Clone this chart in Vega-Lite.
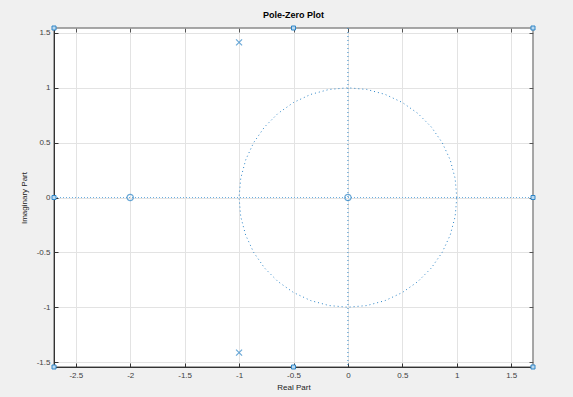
{
  "$schema": "https://vega.github.io/schema/vega-lite/v6.json",
  "width": 479,
  "height": 339,
  "autosize": {"type": "none"},
  "padding": {"left": 54, "top": 28, "right": 40, "bottom": 30},
  "background": "#f0f0f0",
  "title": {"text": "Pole-Zero Plot", "fontSize": 9, "fontWeight": "bold", "font": "Liberation Sans", "color": "#000000", "offset": 4, "frame": "group"},
  "config": {
    "view": {"fill": "white", "stroke": "#8a8a8a", "strokeWidth": 1.5},
    "axis": {"labelFont": "Liberation Sans", "titleFont": "Liberation Sans", "labelFontSize": 8, "titleFontSize": 8, "titleFontWeight": "normal", "labelColor": "#404040", "titleColor": "#222222", "gridColor": "#e3e3e3", "gridWidth": 1, "domainColor": "#333333", "tickColor": "#333333", "tickSize": -4, "labelPadding": 8}
  },
  "datasets": {
    "circle": [
      {"i": 0, "re": 1, "im": 0}, {"i": 1, "re": 0.9848, "im": 0.1736}, {"i": 2, "re": 0.9397, "im": 0.342}, {"i": 3, "re": 0.866, "im": 0.5}, {"i": 4, "re": 0.766, "im": 0.6428}, {"i": 5, "re": 0.6428, "im": 0.766}, {"i": 6, "re": 0.5, "im": 0.866}, {"i": 7, "re": 0.342, "im": 0.9397}, {"i": 8, "re": 0.1736, "im": 0.9848}, {"i": 9, "re": 0, "im": 1},
      {"i": 10, "re": -0.1736, "im": 0.9848}, {"i": 11, "re": -0.342, "im": 0.9397}, {"i": 12, "re": -0.5, "im": 0.866}, {"i": 13, "re": -0.6428, "im": 0.766}, {"i": 14, "re": -0.766, "im": 0.6428}, {"i": 15, "re": -0.866, "im": 0.5}, {"i": 16, "re": -0.9397, "im": 0.342}, {"i": 17, "re": -0.9848, "im": 0.1736}, {"i": 18, "re": -1, "im": 0},
      {"i": 19, "re": -0.9848, "im": -0.1736}, {"i": 20, "re": -0.9397, "im": -0.342}, {"i": 21, "re": -0.866, "im": -0.5}, {"i": 22, "re": -0.766, "im": -0.6428}, {"i": 23, "re": -0.6428, "im": -0.766}, {"i": 24, "re": -0.5, "im": -0.866}, {"i": 25, "re": -0.342, "im": -0.9397}, {"i": 26, "re": -0.1736, "im": -0.9848}, {"i": 27, "re": 0, "im": -1},
      {"i": 28, "re": 0.1736, "im": -0.9848}, {"i": 29, "re": 0.342, "im": -0.9397}, {"i": 30, "re": 0.5, "im": -0.866}, {"i": 31, "re": 0.6428, "im": -0.766}, {"i": 32, "re": 0.766, "im": -0.6428}, {"i": 33, "re": 0.866, "im": -0.5}, {"i": 34, "re": 0.9397, "im": -0.342}, {"i": 35, "re": 0.9848, "im": -0.1736}, {"i": 36, "re": 1, "im": 0}
    ],
    "zeros": [{"re": -2, "im": 0}, {"re": 0, "im": 0}],
    "poles": [{"re": -1, "im": 1.4142}, {"re": -1, "im": -1.4142}],
    "bounds": [
      {"re": -2.7, "im": 1.545}, {"re": -0.5, "im": 1.545}, {"re": 1.7, "im": 1.545},
      {"re": -2.7, "im": 0}, {"re": 1.7, "im": 0},
      {"re": -2.7, "im": -1.545}, {"re": -0.5, "im": -1.545}, {"re": 1.7, "im": -1.545}
    ],
    "origin": [{"v": 0}],
    "haxis": [{"re": -2.7, "im": 0}, {"re": 1.7, "im": 0}]
  },
  "layer": [
    {
      "data": {"name": "origin"},
      "mark": {"type": "rule", "color": "#2e86c8", "strokeDash": [1, 3], "strokeWidth": 1},
      "encoding": {
        "x": {"field": "v", "type": "quantitative", "scale": {"domain": [-2.7, 1.7], "nice": false, "zero": false},
          "axis": {"orient": "bottom", "title": "Real Part", "values": [-2.5, -2, -1.5, -1, -0.5, 0, 0.5, 1, 1.5], "labelExpr": "toString(datum.value)", "titlePadding": 4}}
      }
    },
    {
      "data": {"name": "origin"},
      "mark": {"type": "point", "opacity": 0},
      "encoding": {
        "y": {"field": "v", "type": "quantitative", "scale": {"domain": [-1.545, 1.545], "nice": false, "zero": false},
          "axis": {"orient": "left", "title": "Imaginary Part", "values": [-1.5, -1, -0.5, 0, 0.5, 1, 1.5], "labelExpr": "toString(datum.value)", "titlePadding": 8}}
      }
    },
    {
      "data": {"name": "haxis"},
      "mark": {"type": "line", "color": "#6aaee0", "strokeDash": [1, 2], "strokeWidth": 1},
      "encoding": {
        "x": {"field": "re", "type": "quantitative", "axis": null},
        "y": {"field": "im", "type": "quantitative", "axis": null}
      }
    },
    {
      "data": {"name": "circle"},
      "mark": {"type": "line", "color": "#2e86c8", "strokeDash": [1, 3], "strokeWidth": 1},
      "encoding": {
        "x": {"field": "re", "type": "quantitative", "axis": {"orient": "top", "title": null, "labels": false, "grid": false, "domain": false, "tickColor": "#555555", "values": [-2.5, -2, -1.5, -1, -0.5, 0, 0.5, 1, 1.5]}},
        "y": {"field": "im", "type": "quantitative", "axis": {"orient": "right", "title": null, "labels": false, "grid": false, "domain": false, "tickColor": "#555555", "values": [-1.5, -1, -0.5, 0, 0.5, 1, 1.5]}},
        "order": {"field": "i", "type": "quantitative"}
      }
    },
    {
      "data": {"name": "zeros"},
      "mark": {"type": "point", "shape": "circle", "size": 40, "color": "#2e86c8", "strokeWidth": 1.2, "filled": false},
      "encoding": {
        "x": {"field": "re", "type": "quantitative", "axis": null},
        "y": {"field": "im", "type": "quantitative", "axis": null}
      }
    },
    {
      "data": {"name": "poles"},
      "mark": {"type": "point", "shape": "M-1,-1L1,1M1,-1L-1,1", "size": 36, "color": "#2e86c8", "strokeWidth": 1.2, "filled": false},
      "encoding": {
        "x": {"field": "re", "type": "quantitative", "axis": null},
        "y": {"field": "im", "type": "quantitative", "axis": null}
      }
    },
    {
      "data": {"name": "bounds"},
      "mark": {"type": "point", "shape": "square", "size": 16, "color": "#2e86c8", "fill": "#bcd9ef", "strokeWidth": 1, "filled": false, "fillOpacity": 1},
      "encoding": {
        "x": {"field": "re", "type": "quantitative", "axis": null},
        "y": {"field": "im", "type": "quantitative", "axis": null}
      }
    }
  ],
  "resolve": {"axis": {"x": "independent", "y": "independent"}}
}
